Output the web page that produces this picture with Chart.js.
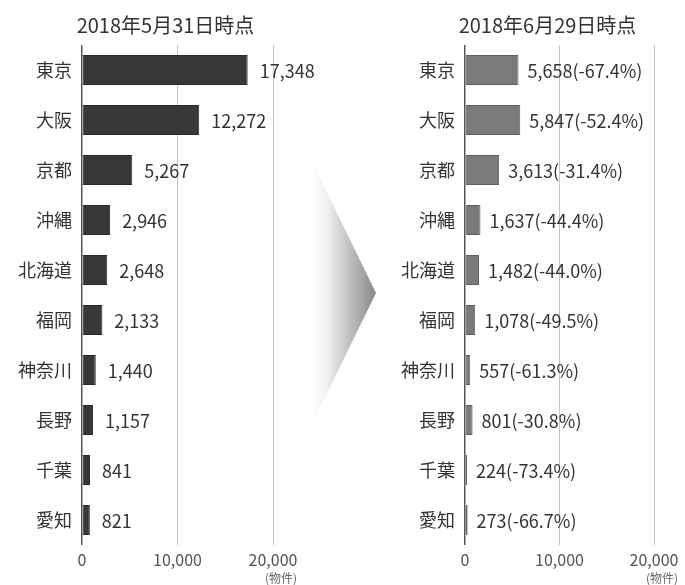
<!DOCTYPE html>
<html lang="ja">
<head>
<meta charset="utf-8">
<title>民泊 届出物件数</title>
<script src="https://cdn.jsdelivr.net/npm/chart.js@4.4.1/dist/chart.umd.min.js"></script>
<style>
    html, body { margin: 0; padding: 0; background: #fff; overflow: hidden; }
    #wrap { position: relative; width: 685px; height: 585px; overflow: hidden; }
    #leftBox { position: absolute; left: 0; top: 0; width: 330px; height: 585px; }
    #rightBox { position: absolute; left: 395px; top: 0; width: 305px; height: 585px; }
    #arrow {
        position: absolute; left: 312px; top: 162px; width: 64px; height: 262px;
        clip-path: polygon(0 0, 100% 50%, 0 100%);
        background: linear-gradient(to right, #ffffff, #eeeeee 25%, #888888);
    }
</style>
</head>
<body>
<div id="wrap">
    <div id="leftBox"><canvas id="leftChart"></canvas></div>
    <div id="arrow"></div>
    <div id="rightBox"><canvas id="rightChart"></canvas></div>
</div>
<script>
/* global Chart, document */
const prefectures = ["東京", "大阪", "京都", "沖縄", "北海道", "福岡", "神奈川", "長野", "千葉", "愛知"];
const may31Counts = [17348, 12272, 5267, 2946, 2648, 2133, 1440, 1157, 841, 821];
const jun29Counts = [5658, 5847, 3613, 1637, 1482, 1078, 557, 801, 224, 273];
const changeRates = [-67.4, -52.4, -31.4, -44.4, -44.0, -49.5, -61.3, -30.8, -73.4, -66.7];
const axisTicks = [0, 10000, 20000];
const unitLabel = "(物件)";

const FONT = "'Noto Sans CJK JP', 'Noto Sans', sans-serif";

function fmt(n) {
    return Number(n).toLocaleString("en-US");
}

// panel title, value text next to each bar, unit under the last tick
const panelText = {
    id: "panelText",
    afterDatasetsDraw(chart, args, opts) {
        const ctx = chart.ctx;
        const area = chart.chartArea;
        const meta = chart.getDatasetMeta(0);
        ctx.save();
        ctx.textBaseline = "middle";

        ctx.font = "20px " + FONT;
        ctx.fillStyle = "#333";
        ctx.textAlign = "center";
        ctx.fillText(opts.title, (area.left + area.right) / 2 - 12, 25);

        ctx.font = "18px " + FONT;
        ctx.textAlign = "left";
        meta.data.forEach((bar, i) => {
            ctx.fillText(opts.text(i), bar.x + opts.offset, bar.y + 1);
        });

        const x = chart.scales.x;
        ctx.font = "12px " + FONT;
        ctx.fillStyle = "#666";
        ctx.textAlign = "right";
        ctx.fillText(unitLabel, x.getPixelForValue(axisTicks[axisTicks.length - 1]) + 24, area.bottom + 33);
        ctx.restore();
    }
};

function makeChart(id, title, values, color, border, yWidth, rightPad, labelText, offset) {
    return new Chart(document.getElementById(id), {
        type: "bar",
        data: {
            labels: prefectures,
            datasets: [{
                data: values,
                backgroundColor: color,
                borderColor: border,
                borderWidth: 1,
                borderSkipped: false,
                categoryPercentage: 1,
                barPercentage: 0.6
            }]
        },
        options: {
            indexAxis: "y",
            responsive: true,
            maintainAspectRatio: false,
            animation: false,
            layout: { padding: { left: 0, right: rightPad, top: 45, bottom: 0 } },
            plugins: {
                legend: { display: false },
                tooltip: { enabled: false },
                title: { display: false },
                panelText: { title: title, text: labelText, offset: offset }
            },
            scales: {
                x: {
                    min: axisTicks[0],
                    max: axisTicks[axisTicks.length - 1],
                    afterBuildTicks: (scale) => {
                        scale.ticks = axisTicks.map(v => ({ value: v }));
                    },
                    afterFit: (scale) => { scale.height = 40; },
                    border: { display: false },
                    grid: {
                        drawTicks: false,
                        color: (c) => (c.tick && c.tick.value === 0 ? "#555" : "#c4c4c4"),
                        lineWidth: (c) => (c.tick && c.tick.value === 0 ? 1.5 : 1)
                    },
                    ticks: {
                        padding: 5,
                        color: "#555",
                        font: { family: FONT, size: 16 },
                        callback: (v) => fmt(v)
                    }
                },
                y: {
                    afterFit: (scale) => { scale.width = yWidth; },
                    border: { display: false },
                    grid: { display: false },
                    ticks: {
                        padding: 2,
                        color: "#333",
                        font: { family: FONT, size: 18 }
                    }
                }
            }
        },
        plugins: [panelText]
    });
}

makeChart("leftChart", "2018年5月31日時点", may31Counts, "#383838", "#2a2a2a", 82, 57,
    (i) => fmt(may31Counts[i]), 12);

makeChart("rightChart", "2018年6月29日時点", jun29Counts, "#7a7a7a", "#5e5e5e", 70, 46,
    (i) => fmt(jun29Counts[i]) + "(" + changeRates[i].toFixed(1) + "%)", 9);
</script>
</body>
</html>
